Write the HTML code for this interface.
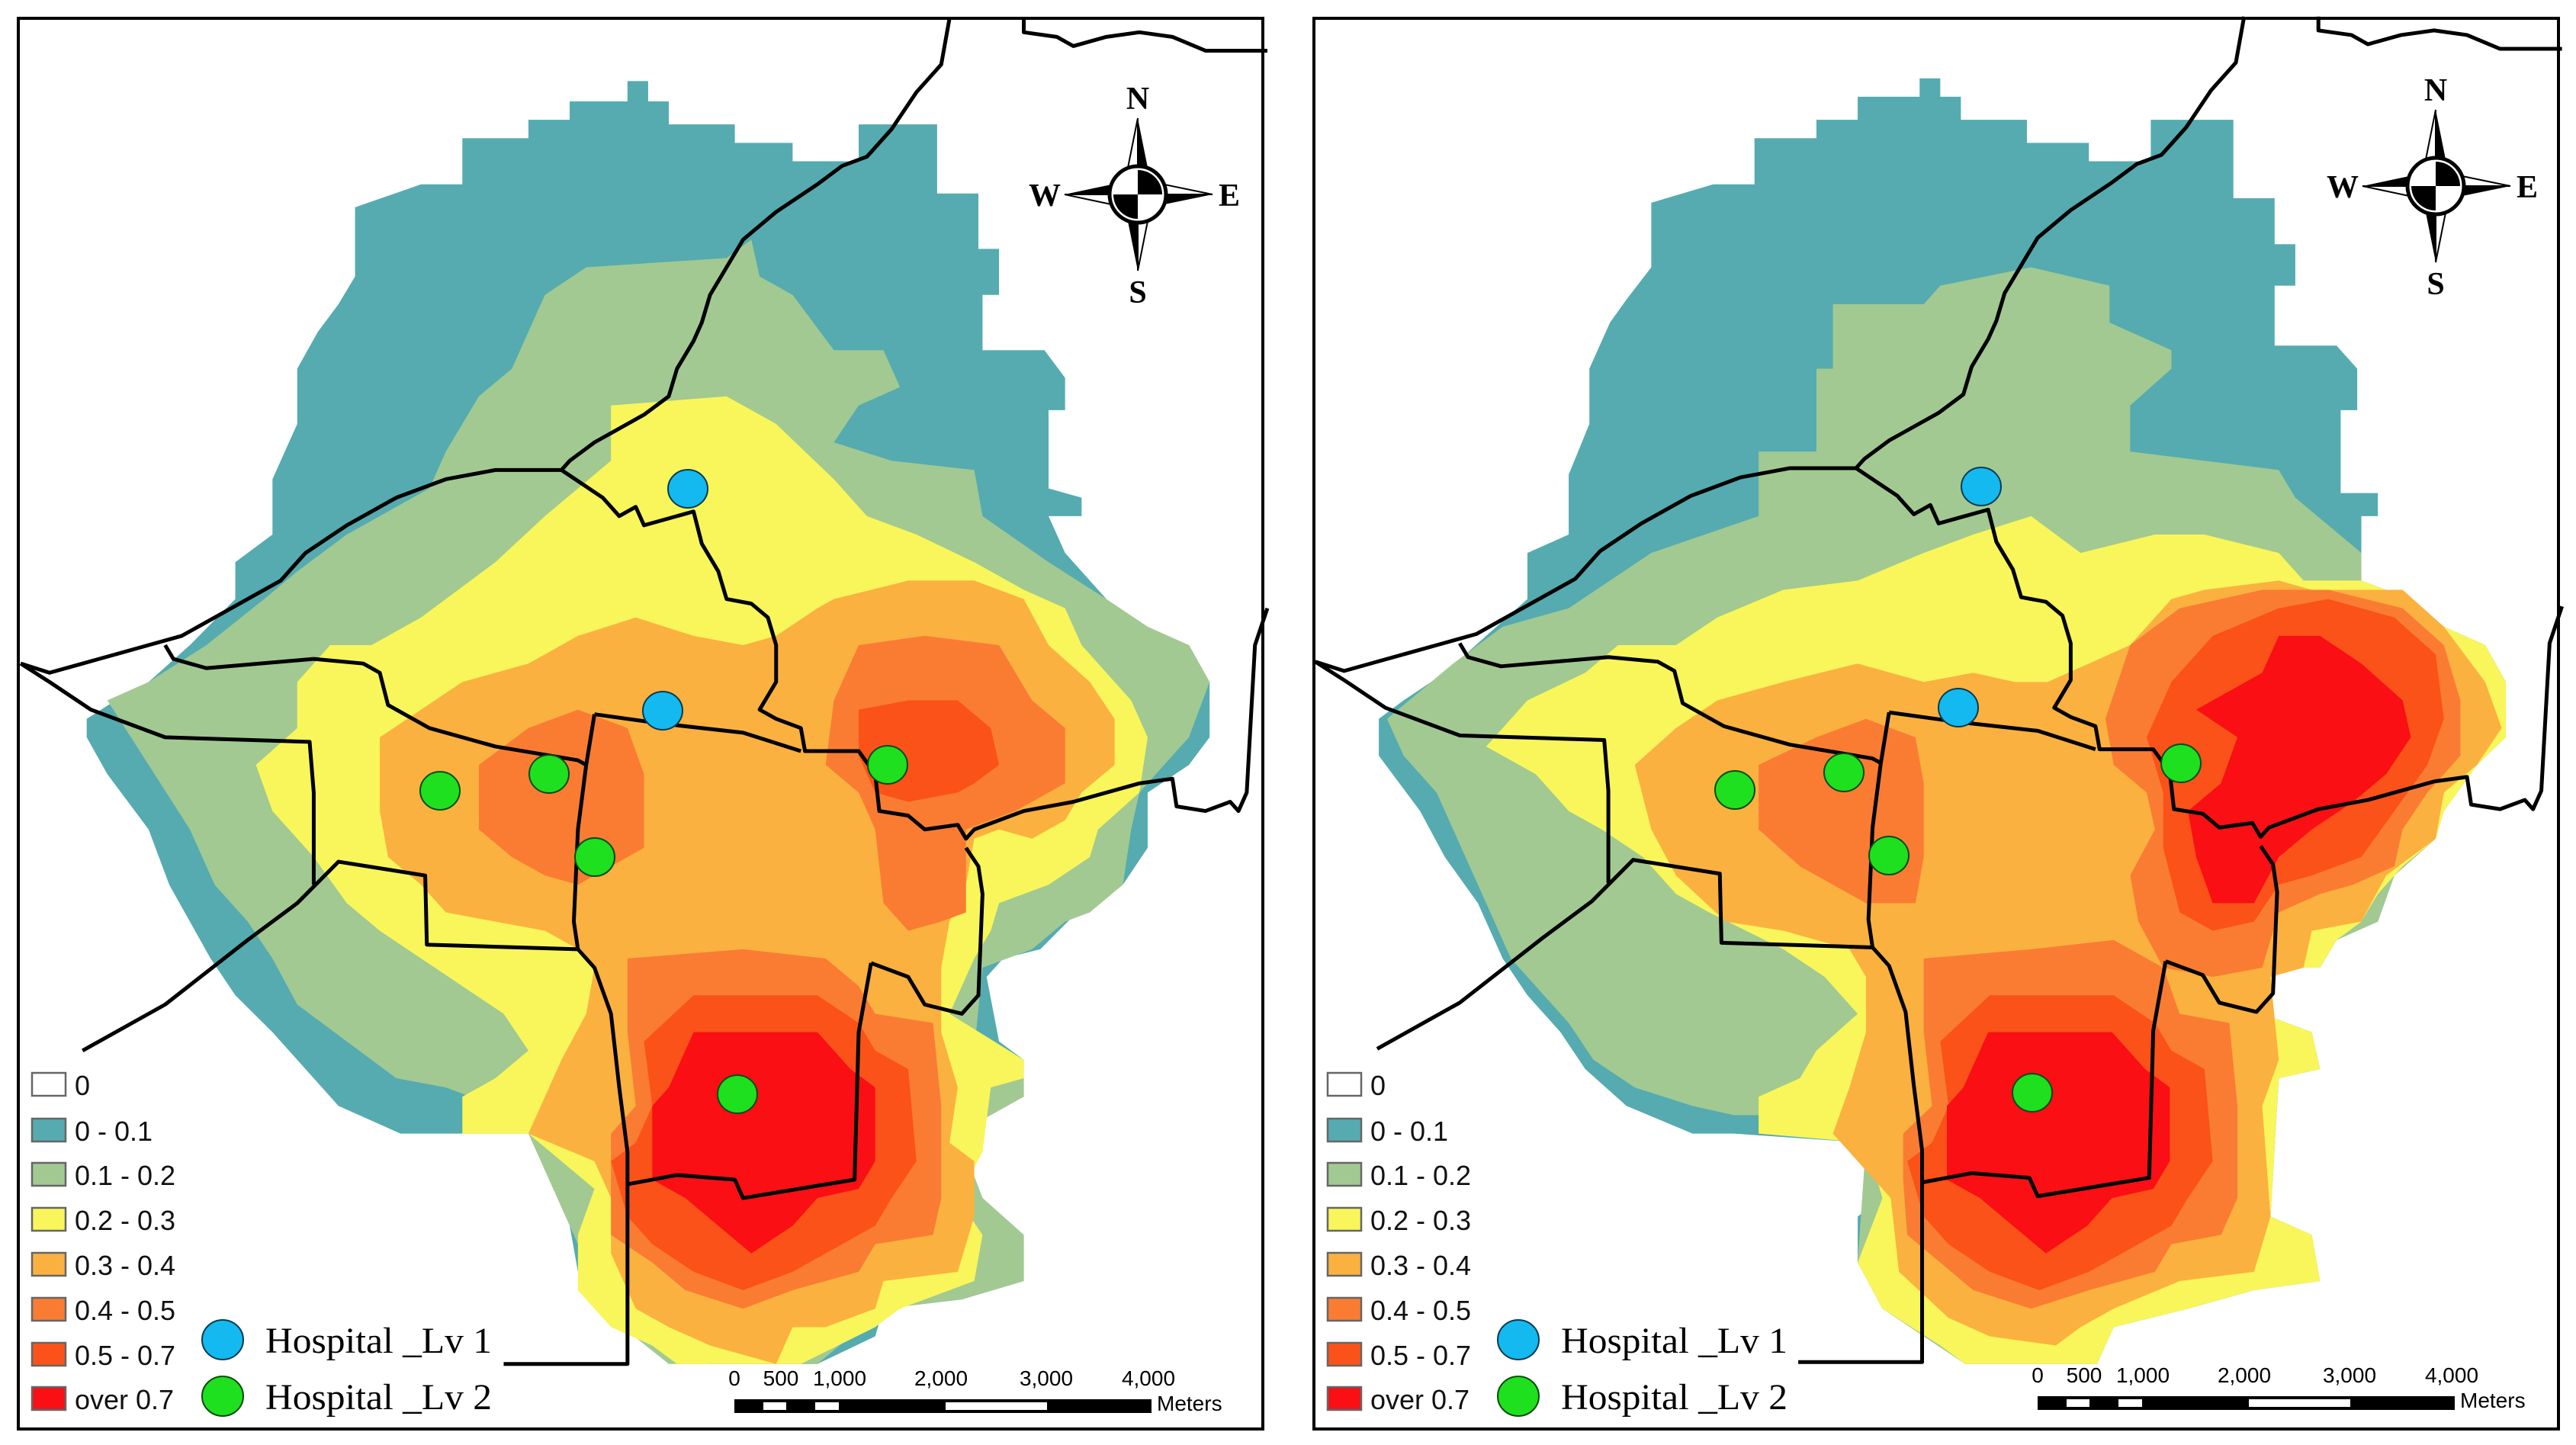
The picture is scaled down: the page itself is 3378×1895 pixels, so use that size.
<!DOCTYPE html>
<html><head><meta charset="utf-8"><style>
html,body{margin:0;padding:0;background:#fff;}
svg{display:block;}
.lg{font-family:"Liberation Sans",sans-serif;font-size:36px;fill:#111;}
.sb{font-family:"Liberation Sans",sans-serif;font-size:28px;fill:#000;}
.hs{font-family:"Liberation Serif",serif;font-size:48px;fill:#000;}
.cp{font-family:"Liberation Serif",serif;font-size:42px;fill:#000;font-weight:bold;}
</style></head><body>
<svg id="svg" width="3378" height="1895" viewBox="0 0 3378 1895" xmlns="http://www.w3.org/2000/svg"></svg>
<script>
const COLORS=["#55abb0","#a2c992","#f8f65a","#fbb13f","#fa7c33","#fb5219","#f90f14"];
const LABELS=["0","0 - 0.1","0.1 - 0.2","0.2 - 0.3","0.3 - 0.4","0.4 - 0.5","0.5 - 0.7","over 0.7"];
const LEFT_LAYERS=[
 [[[560,150],[640,150],[640,130],[690,130],[690,110],[760,110],[760,88],[785,88],[785,110],[810,110],[810,135],[890,135],[890,155],[960,155],[960,175],[1040,175],[1040,135],[1135,135],[1135,210],[1185,210],[1185,270],[1210,270],[1210,320],[1190,320],[1190,380],[1265,380],[1290,410],[1290,445],[1270,445],[1270,530],[1310,540],[1310,560],[1270,560],[1290,600],[1340,650],[1370,690],[1440,700],[1465,740],[1465,800],[1440,830],[1390,860],[1390,920],[1360,960],[1310,985],[1260,1030],[1215,1040],[1195,1060],[1210,1130],[1240,1150],[1240,1190],[1190,1200],[1160,1230],[1190,1300],[1240,1340],[1240,1390],[1165,1410],[1070,1420],[1060,1450],[990,1480],[940,1480],[860,1480],[810,1470],[790,1450],[740,1430],[700,1380],[690,1330],[720,1290],[640,1230],[560,1230],[535,1230],[485,1230],[410,1200],[360,1150],[330,1120],[285,1080],[255,1040],[230,1000],[205,960],[180,900],[130,840],[105,800],[105,780],[140,760],[180,740],[230,700],[285,650],[285,610],[330,580],[330,520],[360,460],[360,400],[385,360],[410,330],[430,300],[430,225],[510,200],[560,200]]],
 [[[660,320],[710,290],[880,280],[910,260],[920,300],[960,320],[1010,380],[1070,380],[1090,420],[1040,440],[1010,480],[1080,500],[1180,510],[1190,560],[1270,610],[1340,650],[1390,680],[1440,700],[1465,740],[1440,800],[1380,860],[1370,900],[1360,960],[1320,990],[1290,1000],[1250,1030],[1190,1050],[1180,1140],[1240,1150],[1240,1190],[1160,1230],[1190,1300],[1240,1340],[1240,1390],[1165,1410],[1070,1420],[990,1480],[810,1480],[740,1430],[690,1330],[640,1230],[600,1200],[540,1180],[480,1170],[420,1130],[360,1090],[330,1040],[300,1000],[260,960],[230,900],[180,830],[130,760],[180,740],[250,700],[320,650],[360,620],[420,580],[520,530],[540,490],[580,430],[620,400],[650,340]]],
 [[[740,440],[880,430],[940,460],[1010,520],[1050,560],[1110,580],[1180,610],[1240,640],[1290,660],[1310,700],[1340,730],[1370,760],[1390,800],[1380,860],[1330,900],[1320,930],[1270,960],[1210,980],[1200,1010],[1180,1040],[1150,1100],[1240,1150],[1240,1170],[1200,1180],[1190,1250],[1160,1300],[1190,1340],[1180,1390],[1090,1420],[1060,1440],[970,1480],[820,1480],[790,1460],[740,1440],[700,1400],[700,1340],[720,1290],[640,1230],[560,1230],[560,1190],[600,1170],[640,1140],[610,1100],[560,1070],[510,1040],[460,1010],[420,980],[380,930],[330,880],[310,830],[360,790],[360,740],[400,700],[450,700],[510,670],[600,610],[660,560],[740,500]]],
 [[[460,800],[560,740],[640,720],[700,690],[770,670],[840,690],[900,700],[940,690],[990,660],[1010,650],[1100,630],[1180,630],[1240,650],[1270,700],[1320,740],[1350,780],[1350,830],[1310,860],[1290,890],[1250,910],[1210,900],[1180,910],[1170,960],[1150,1000],[1140,1050],[1140,1120],[1160,1180],[1150,1240],[1180,1260],[1180,1320],[1160,1380],[1070,1390],[1060,1420],[1000,1440],[960,1440],[940,1480],[860,1460],[810,1440],[770,1420],[740,1360],[740,1300],[720,1260],[640,1230],[660,1190],[680,1150],[710,1100],[720,1050],[700,1030],[660,1010],[600,1000],[540,990],[510,960],[470,930],[460,880]]],
 [[[580,830],[640,790],[700,770],[760,790],[780,840],[780,920],[740,940],[700,960],[660,950],[620,930],[580,900]],
  [[1010,760],[1040,700],[1120,690],[1210,700],[1250,760],[1290,790],[1290,850],[1230,880],[1170,900],[1170,990],[1140,1000],[1100,1010],[1070,980],[1060,900],[1040,860],[1000,830]],
  [[760,1040],[900,1030],[1000,1040],[1040,1070],[1060,1100],[1130,1110],[1140,1200],[1140,1300],[1130,1340],[1060,1350],[1040,1380],[960,1400],[900,1420],[830,1400],[790,1370],[740,1340],[740,1280],[740,1230],[770,1200],[760,1120]]],
 [[[1040,770],[1100,760],[1160,760],[1200,790],[1210,830],[1180,850],[1160,860],[1100,870],[1060,860],[1040,820]],
  [[780,1130],[840,1080],[990,1080],[1040,1110],[1060,1140],[1100,1160],[1110,1260],[1080,1300],[1060,1330],[1000,1360],[960,1380],[900,1400],[840,1380],[790,1350],[760,1320],[740,1260],[770,1240],[790,1200]]],
 [[[840,1120],[990,1120],[1030,1160],[1060,1180],[1060,1260],[1040,1290],[990,1300],[960,1330],[910,1360],[870,1330],[830,1300],[790,1280],[790,1200],[810,1180]]]
];
const RIGHT_LAYERS=[
 [[[565,150],[640,150],[640,130],[690,130],[690,105],[765,105],[765,85],[790,85],[790,105],[815,105],[815,130],[895,130],[895,155],[970,155],[970,175],[1045,175],[1045,130],[1145,130],[1145,215],[1195,215],[1195,265],[1220,265],[1220,310],[1195,310],[1195,375],[1270,375],[1295,400],[1295,445],[1275,445],[1275,535],[1320,535],[1320,560],[1300,560],[1300,630],[1360,650],[1400,680],[1450,700],[1475,740],[1475,800],[1440,830],[1400,880],[1390,910],[1340,950],[1320,1000],[1270,1020],[1250,1050],[1200,1050],[1180,1100],[1240,1120],[1250,1160],[1200,1170],[1190,1320],[1240,1340],[1250,1390],[1170,1400],[1090,1420],[1000,1440],[980,1480],[820,1480],[790,1460],[720,1420],[690,1370],[690,1320],[720,1300],[700,1240],[540,1230],[490,1230],[410,1200],[360,1160],[330,1120],[290,1080],[260,1040],[230,980],[190,930],[160,880],[110,820],[110,780],[140,760],[190,730],[240,690],[290,650],[290,600],[340,580],[340,515],[365,460],[365,400],[390,350],[410,325],[440,290],[440,220],[515,200],[565,200]]],
 [[[660,330],[770,330],[790,310],[900,290],[995,310],[995,350],[1070,380],[1070,400],[1020,440],[1020,490],[1200,510],[1220,540],[1300,600],[1300,640],[1360,650],[1400,680],[1450,700],[1475,740],[1475,800],[1440,830],[1400,880],[1390,910],[1340,950],[1320,1000],[1270,1020],[1250,1050],[1200,1050],[1180,1100],[1240,1120],[1250,1160],[1200,1170],[1190,1320],[1240,1340],[1250,1390],[1170,1400],[1090,1420],[1000,1440],[980,1480],[820,1480],[720,1420],[690,1370],[700,1240],[620,1210],[540,1210],[490,1200],[420,1180],[370,1150],[340,1110],[300,1070],[270,1040],[240,980],[210,920],[180,860],[140,820],[120,780],[200,720],[260,680],[340,660],[440,600],[570,560],[570,490],[640,490],[640,400],[660,400]]],
 [[[690,630],[770,600],[830,580],[900,560],[960,600],[1050,580],[1110,580],[1200,600],[1230,630],[1300,630],[1360,650],[1400,680],[1450,700],[1475,740],[1475,800],[1440,830],[1400,880],[1390,910],[1350,940],[1320,970],[1300,1000],[1270,1020],[1250,1050],[1200,1050],[1180,1100],[1240,1120],[1250,1160],[1200,1170],[1190,1320],[1240,1340],[1250,1390],[1170,1400],[1090,1420],[1000,1440],[980,1480],[820,1480],[790,1460],[720,1420],[690,1370],[720,1300],[700,1240],[570,1230],[570,1190],[620,1170],[640,1140],[690,1100],[650,1060],[600,1030],[510,990],[470,970],[430,930],[380,900],[340,880],[300,840],[240,810],[290,760],[360,730],[400,700],[470,700],[520,670],[600,640]]],
 [[[420,830],[470,790],[520,760],[600,740],[690,720],[770,740],[830,730],[880,740],[920,740],[970,720],[1020,700],[1070,650],[1110,640],[1200,630],[1240,640],[1350,640],[1400,680],[1450,740],[1470,790],[1440,830],[1400,860],[1390,910],[1330,950],[1300,1000],[1240,1010],[1230,1050],[1190,1060],[1200,1150],[1180,1200],[1190,1320],[1170,1380],[1080,1390],[1000,1420],[960,1440],[930,1460],[850,1450],[800,1430],[740,1380],[730,1300],[690,1260],[660,1230],[680,1180],[700,1120],[700,1060],[680,1030],[600,1010],[530,1000],[470,950],[440,900]]],
 [[[570,830],[640,800],[700,780],[760,800],[770,850],[770,930],[760,980],[700,980],[660,960],[620,940],[570,900]],
  [[1020,700],[1080,660],[1180,640],[1260,640],[1350,660],[1400,700],[1420,760],[1420,820],[1380,860],[1350,900],[1340,940],[1290,960],[1250,970],[1200,990],[1180,1050],[1120,1060],[1060,1050],[1030,1000],[1020,950],[1050,900],[1040,860],[1000,830],[990,780]],
  [[770,1040],[900,1030],[1000,1020],[1060,1050],[1080,1100],[1140,1110],[1150,1200],[1150,1300],[1130,1340],[1070,1350],[1050,1380],[970,1400],[900,1420],[830,1400],[790,1370],[750,1340],[745,1280],[745,1230],[780,1200],[770,1120]]],
 [[[1070,740],[1120,690],[1200,660],[1260,650],[1340,670],[1390,710],[1400,780],[1380,830],[1340,880],[1300,930],[1240,950],[1200,960],[1170,1000],[1120,1010],[1080,990],[1060,920],[1060,860],[1040,800]],
  [[790,1130],[850,1080],[1000,1080],[1050,1110],[1070,1140],[1110,1160],[1120,1260],[1090,1300],[1070,1330],[1010,1360],[970,1380],[910,1400],[850,1380],[800,1350],[770,1320],[750,1260],[780,1240],[800,1200]]],
 [[[1100,770],[1180,730],[1200,690],[1250,690],[1300,720],[1350,760],[1360,800],[1330,840],[1290,870],[1240,900],[1200,930],[1170,980],[1120,980],[1100,930],[1090,880],[1130,850],[1150,800]],
  [[848,1120],[998,1120],[1038,1160],[1068,1180],[1068,1260],[1048,1290],[998,1300],[968,1330],[918,1360],[878,1330],[838,1300],[798,1280],[798,1200],[818,1180]]]
];
const ROADS=[
 [[1150,20],[1140,70],[1110,100],[1080,140],[1050,170],[1020,180],[990,200],[940,230],[900,260],[880,290],[860,320],[850,350],[840,370],[820,400],[810,430],[780,450],[740,470],[720,480],[690,500],[680,510],[600,510],[540,520],[480,540],[420,570],[370,600],[340,630],[300,650],[260,670],[220,690],[180,700],[140,710],[100,720],[60,730],[25,720]],
 [[1240,20],[1240,35],[1280,40],[1300,50],[1340,40],[1380,35],[1420,40],[1460,55],[1500,55],[1535,55]],
 [[680,510],[730,540],[750,560],[770,550],[780,570],[800,565],[840,555],[850,590],[870,620],[880,650],[910,655],[930,670],[940,700],[940,740],[920,770],[940,780],[970,790],[975,815],[1040,815],[1060,840],[1065,880],[1100,885],[1120,900],[1160,895],[1170,910],[1180,900],[1240,880],[1300,870],[1380,850],[1420,845],[1425,875],[1460,880],[1490,870],[1500,880],[1510,860],[1520,700],[1535,660]],
 [[720,775],[800,785],[900,795],[970,815]],
 [[720,775],[710,830],[700,900],[695,1000],[700,1030],[720,1050],[740,1100],[750,1180],[760,1250],[760,1480],[610,1480]],
 [[25,720],[60,740],[110,770],[200,800],[375,805],[380,860],[380,960]],
 [[200,700],[210,715],[250,725],[380,715],[440,720],[460,730],[470,765],[520,790],[600,810],[700,825],[710,830]],
 [[100,1140],[200,1090],[300,1020],[360,980],[410,935],[515,950],[517,1025],[700,1030]],
 [[1055,1045],[1100,1060],[1120,1090],[1165,1100],[1185,1080],[1190,970],[1185,940],[1170,920]],
 [[1055,1045],[1040,1120],[1035,1280],[900,1300],[890,1280],[820,1275],[760,1285]]
];
const HOSP_LEFT_LV1=[[902,641],[869,932]];
const HOSP_LEFT_LV2=[[577,1037],[720,1015],[780,1124],[1164,1003],[967,1435]];
const HOSP_RIGHT_LV1=[[2598,638],[2568,928]];
const HOSP_RIGHT_LV2=[[2275,1036],[2418,1013],[2477,1122],[2860,1001],[2665,1433]];
const SCALE_LABELS=["0","500","1,000","2,000","3,000","4,000"];
const SCALE_X=[963,1024,1101,1234,1372,1506];

const NS="http://www.w3.org/2000/svg";
const svg=document.getElementById('svg');
function mk(tag,attrs,parent){const e=document.createElementNS(NS,tag);for(const k in attrs)e.setAttribute(k,attrs[k]);parent.appendChild(e);return e;}
function pts(a){return a.map(p=>p.join(',')).join(' ');}

function panel(idx,layers,offX,lineDX,lineDY,lv1,lv2,compass){
 const pg=mk('g',{},svg);
 
 
 const fx=idx===0?24:1723;
 const heat=mk('g',{transform:`translate(${offX},0) scale(1.0827,1.2086)`},pg);
 
 
 layers.forEach((layer,li)=>{layer.forEach(poly=>{
  const p=mk('polygon',{points:pts(poly),fill:COLORS[li]},heat);
  
  
 });});
 const rg=mk('g',{transform:`translate(${offX},0) scale(1.0827,1.2086) translate(${lineDX},${lineDY})`},pg);
 
 
 ROADS.forEach(r=>{
  const l=mk('polyline',{points:pts(r),fill:'none',stroke:'#000','stroke-width':5,'stroke-linejoin':'round','vector-effect':'non-scaling-stroke'},rg);
  
  
 });
 lv1.forEach(h=>{const c=mk('ellipse',{cx:h[0],cy:h[1],rx:26,ry:25,fill:'#14b9ef',stroke:'#0a3a50','stroke-width':2},pg);
  
  });
 lv2.forEach(h=>{const c=mk('ellipse',{cx:h[0],cy:h[1],rx:26,ry:25,fill:'#1ee01e',stroke:'#0a4a0a','stroke-width':2},pg);
  
  });
 const fr=mk('rect',{x:fx,y:24,width:1632,height:1850,fill:'none',stroke:'#000','stroke-width':4},pg);
 
 
 const dx=fx-24;
 const lg=mk('g',{transform:`translate(${dx},0)`},pg);
 
 
 const tops=[1407,1467,1525,1584,1643,1702,1761,1819];
 LABELS.forEach((t,i)=>{
  const b=mk('rect',{x:42,y:tops[i],width:44,height:30,fill:i===0?'#fff':COLORS[i-1],stroke:'#666','stroke-width':2.5},lg);
  
  
  const tx=mk('text',{x:98,y:tops[i]+29,class:'lg'},lg);tx.textContent=t;
  
  
 });
 [['#14b9ef','#0a3a50','Hospital _Lv 1',1757],['#1ee01e','#0a4a0a','Hospital _Lv 2',1831]].forEach(h=>{
  const c=mk('ellipse',{cx:292,cy:h[3],rx:27,ry:26,fill:h[0],stroke:h[1],'stroke-width':2},lg);
  
  
  const tx=mk('text',{x:348,y:h[3]+17,class:'hs',textLength:297,lengthAdjust:'spacingAndGlyphs'},lg);tx.textContent=h[2];
  
  
 });
 const sb=mk('g',{transform:`translate(${dx+(idx?10:0)},${idx?-4:0})`},pg);
 
 
 mk('rect',{x:963,y:1835,width:547,height:18,fill:'#000'},sb);
 [[1001,30],[1069,31],[1240,133]].forEach(w=>mk('rect',{x:w[0],y:1839,width:w[1],height:10,fill:'#fff'},sb));
 SCALE_LABELS.forEach((t,i)=>{const tx=mk('text',{x:SCALE_X[i],y:1817,class:'sb','text-anchor':'middle'},sb);tx.textContent=t;
  
  });
 const m=mk('text',{x:1517,y:1850,class:'sb'},sb);m.textContent='Meters';
 
 
 const cg=mk('g',{transform:`translate(${compass[0]},${compass[1]})`},pg);
 
 
 mk('polygon',{points:'0,-100 14,-30 0,-30','fill':'#000'},cg);
 mk('polygon',{points:'0,-100 -14,-30 0,-30','fill':'#fff',stroke:'#000','stroke-width':2},cg);
 mk('polygon',{points:'0,100 -14,30 0,30','fill':'#000'},cg);
 mk('polygon',{points:'0,100 14,30 0,30','fill':'#fff',stroke:'#000','stroke-width':2},cg);
 mk('polygon',{points:'-96,0 -30,-14 -30,0','fill':'#000'},cg);
 mk('polygon',{points:'-96,0 -30,14 -30,0','fill':'#fff',stroke:'#000','stroke-width':2},cg);
 mk('polygon',{points:'98,0 30,14 30,0','fill':'#000'},cg);
 mk('polygon',{points:'98,0 30,-14 30,0','fill':'#fff',stroke:'#000','stroke-width':2},cg);
 mk('circle',{cx:0,cy:0,r:37,fill:'#fff',stroke:'#000','stroke-width':5},cg);
 mk('path',{d:'M0,0 L0,-32 A32,32 0 0 1 32,0 Z',fill:'#000'},cg);
 mk('path',{d:'M0,0 L0,32 A32,32 0 0 1 -32,0 Z',fill:'#000'},cg);
 [['N',0,-112],['S',0,142],['W',-122,15],['E',120,15]].forEach(l=>{
  const t=mk('text',{x:l[1],y:l[2],class:'cp','text-anchor':'middle'},cg);t.textContent=l[0];
  
  
 });
}
panel(0,LEFT_LAYERS,0,0,0,HOSP_LEFT_LV1,HOSP_LEFT_LV2,[1492,255]);
panel(1,RIGHT_LAYERS,1689,8,-2,HOSP_RIGHT_LV1,HOSP_RIGHT_LV2,[3194,244]);
</script>
</body></html>
